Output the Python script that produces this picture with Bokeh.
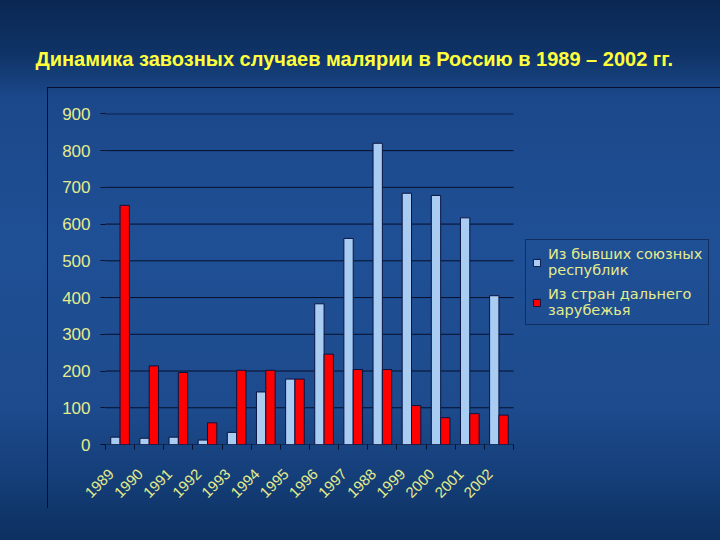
from math import pi
from bokeh.plotting import figure
from bokeh.models import ColumnDataSource, Legend, LegendItem, FixedTicker
from bokeh.transform import dodge
from bokeh.embed import file_html
from bokeh.resources import INLINE

title_text = "Динамика завозных случаев малярии в Россию в 1989 – 2002 гг."
years = ["1989", "1990", "1991", "1992", "1993", "1994", "1995",
         "1996", "1997", "1988", "1999", "2000", "2001", "2002"]
former_ussr = [20, 17, 20, 12, 33, 143, 178, 383, 561, 820, 684, 678, 617, 405]
far_abroad = [651, 214, 196, 59, 202, 202, 178, 246, 204, 204, 106, 73, 84, 80]
series_names = ["Из бывших союзных\nреспублик", "Из стран дальнего\nзарубежья"]
y_ticks = [0, 100, 200, 300, 400, 500, 600, 700, 800, 900]

n = len(years)
idx = list(range(1, n + 1))
src = ColumnDataSource(dict(x=idx, former=former_ussr, far=far_abroad))
grid_src = ColumnDataSource(dict(y=y_ticks, x0=[0.5] * len(y_ticks), x1=[n + 0.5] * len(y_ticks)))

LABEL = "#e4ec8c"
DARK = "#06102c"

FRAME_L, PLOT_R, W = 105, 513, 720
cat_px = (PLOT_R - FRAME_L) / n
x_end = 0.5 + (W - FRAME_L) / cat_px   # frame runs to the window edge; legend sits at its right

p = figure(width=W, height=540, x_range=(0.5, x_end), y_range=(0, 901),
           output_backend="svg", toolbar_location=None,
           min_border_left=FRAME_L, min_border_right=0, min_border_top=113, min_border_bottom=96)

p.styles = {
    "background": (
        f"linear-gradient({DARK},{DARK}) 47px 87px / 1px 421px no-repeat, "
        f"linear-gradient({DARK},{DARK}) 47px 87px / 673px 1px no-repeat, "
        "linear-gradient(to bottom, #0a2752 0%, #0f3367 10%, #1b488a 18%, #1f4f95 45%, "
        "#1d4b8d 75%, #153f7a 88%, #0c305f 100%)"
    )
}
p.background_fill_alpha = 0
p.border_fill_alpha = 0
p.outline_line_color = None

# horizontal gridlines (only across the plotting area)
p.segment(x0="x0", x1="x1", y0="y", y1="y", source=grid_src, line_color=DARK, line_width=1)

r1 = p.vbar(x=dodge("x", -0.16, range=p.x_range), top="former", width=0.32, source=src,
            fill_color="#a8ccf2", line_color="#0a1440", line_width=1)
r2 = p.vbar(x=dodge("x", 0.16, range=p.x_range), top="far", width=0.32, source=src,
            fill_color="#ff0000", line_color="#0a1440", line_width=1)

# title
p.title.text = title_text
p.title.align = "left"
p.title.offset = -70
p.title.standoff = 88
p.title.text_line_height = 1.0
p.title.text_font = "Liberation Sans"
p.title.text_font_style = "bold"
p.title.text_font_size = "20px"
p.title.text_color = "#ffff3c"

# y axis
p.yaxis.ticker = FixedTicker(ticks=y_ticks)
p.yaxis.axis_line_color = None
p.yaxis.major_tick_out = 5
p.yaxis.major_tick_in = 0
p.yaxis.major_tick_line_color = DARK
p.yaxis.minor_tick_line_color = None
p.yaxis.major_label_standoff = 10
p.yaxis.major_label_text_font = "Liberation Sans"
p.yaxis.major_label_text_font_size = "17px"
p.yaxis.major_label_text_color = LABEL

p.ygrid.grid_line_color = None
p.xgrid.grid_line_color = None

# x axis: labels sit slightly left of category centres, ticks at category boundaries
label_pos = [i - 0.3 for i in idx]
p.xaxis.ticker = FixedTicker(ticks=label_pos, minor_ticks=[i + 0.5 for i in range(n + 1)])
p.xaxis.major_label_overrides = {pos: y for pos, y in zip(label_pos, years)}
p.xaxis.major_label_orientation = pi / 4
p.xaxis.major_tick_line_color = None
p.xaxis.major_tick_out = 0
p.xaxis.major_tick_in = 0
p.xaxis.minor_tick_out = 5
p.xaxis.minor_tick_in = 0
p.xaxis.minor_tick_line_color = DARK
p.xaxis.axis_line_color = None
p.xaxis.major_label_standoff = 22
p.xaxis.major_label_text_font = "Liberation Sans"
p.xaxis.major_label_text_font_size = "15px"
p.xaxis.major_label_text_color = LABEL

legend = Legend(items=[LegendItem(label=series_names[0], renderers=[r1]),
                       LegendItem(label=series_names[1], renderers=[r2])],
                location=(420, 119))
legend.background_fill_alpha = 0
legend.border_line_color = DARK
legend.border_line_width = 1
legend.label_text_font = "DejaVu Sans"
legend.label_text_font_size = "14.5px"
legend.label_text_line_height = 1.5
legend.label_text_color = LABEL
legend.glyph_width = 9
legend.glyph_height = 9
legend.label_standoff = 7
legend.padding = 6
legend.spacing = 8
legend.margin = 0
p.add_layout(legend, "center")

open("out.html", "w").write(file_html(p, INLINE))
